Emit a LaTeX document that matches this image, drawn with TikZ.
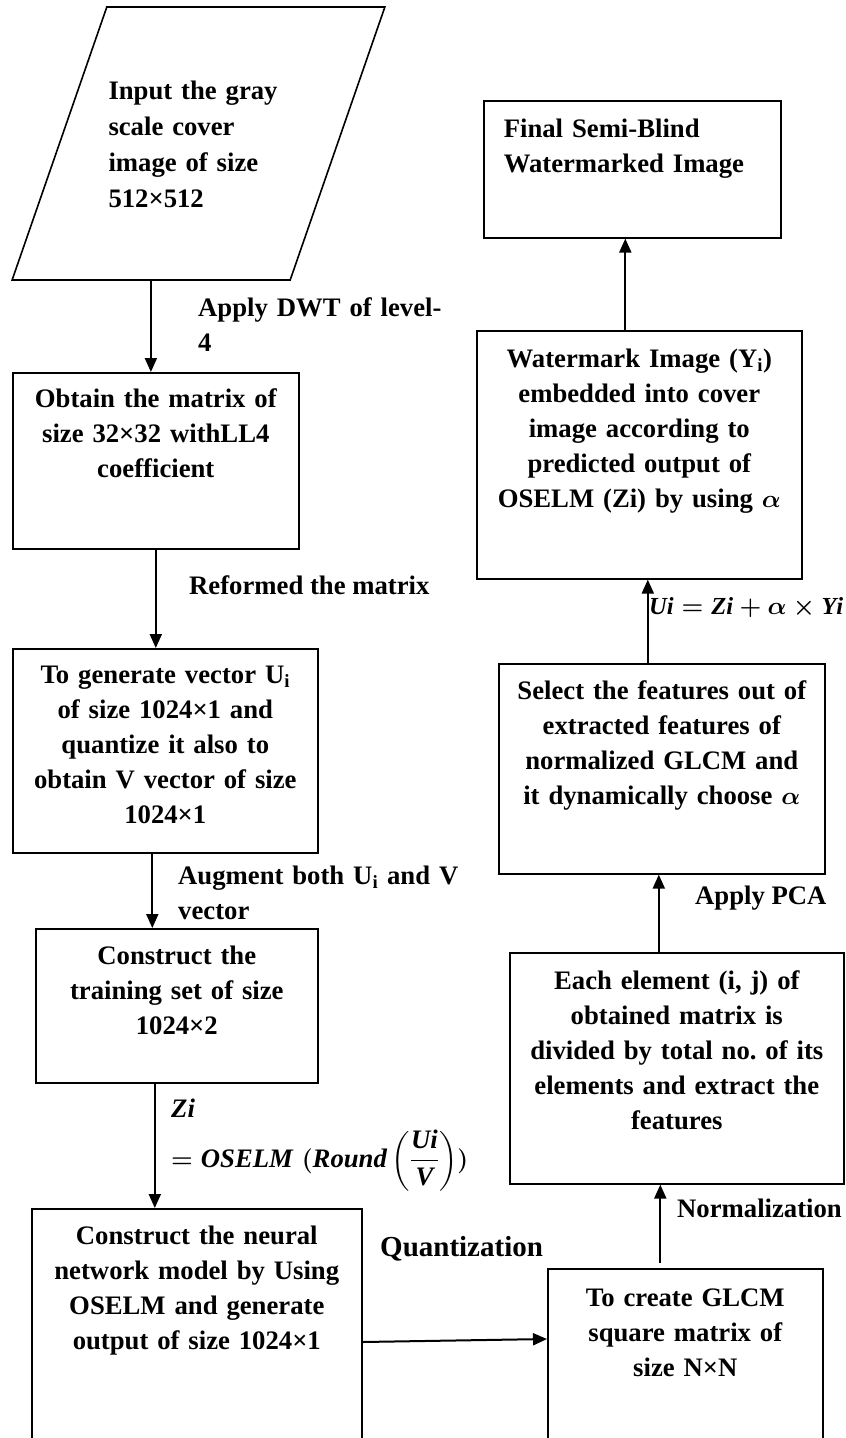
\documentclass[tikz,border=0pt]{standalone}
\usepackage{amsmath}
\usepackage{fontspec}
\setmainfont{Liberation Serif}
\usepackage{tikz}
\usetikzlibrary{shapes.geometric, arrows.meta}
\frenchspacing
\tikzset{
  stage/.style={rectangle, draw, line width=1.6pt, anchor=north west, inner sep=0pt, align=center,
    font=\bfseries\boldmath\fontsize{26.7}{35}\selectfont},
  lbl/.style={inner sep=0pt, anchor=base west, align=left,
    font=\bfseries\boldmath\fontsize{26.7}{35}\selectfont},
  arrow/.style={-{Triangle[length=14pt,width=12pt]}, line width=2pt},
}

\begin{document}
\begin{tikzpicture}[x=1pt, y=-1pt]
    \useasboundingbox (0,0) rectangle (846,1438);
    \clip (0,0) rectangle (846,1438);
    % left column
    \node[trapezium, draw, line width=1.6pt, trapezium left angle=71.2, trapezium right angle=108.8,
      trapezium stretches=true, minimum width=373pt, minimum height=273pt, text width=180pt,
      text height=92pt, text depth=181pt,
      align=left, inner sep=0pt, font=\bfseries\fontsize{26.7}{36}\selectfont]
      (input) at (198.5,143.5) {Input the gray\\scale cover\\image of size\\512×512};
    \node[stage, text width=286pt, text height=35pt, text depth=141pt] (obtain) at (12,372)
      {Obtain the matrix of\\size 32×32 withLL4\\coefficient};
    \node[stage, text width=305pt, text height=35pt, text depth=169pt] (vecgen) at (12,648)
      {To generate vector U\textsubscript{i}\\of size 1024×1 and\\quantize it also to\\obtain V vector of size\\1024×1};
    \node[stage, text width=282pt, text height=36pt, text depth=118pt] (trainset) at (35,928)
      {Construct the\\training set of size\\1024×2};
    \node[stage, text width=330pt, text height=36pt, text depth=220pt] (oselm) at (31,1208)
      {Construct the neural\\network model by Using\\OSELM and generate\\output of size 1024×1};
    % right column
    \node[stage, text width=275pt, text height=38pt, text depth=160pt] (glcm) at (547,1268)
      {To create GLCM\\square matrix of\\size N×N};
    \node[stage, text width=334pt, text height=37pt, text depth=194pt] (normglcm) at (509,952)
      {Each element (i, j) of\\obtained matrix is\\divided by total no. of its\\elements and extract the\\features};
    \node[stage, text width=326pt, text height=36pt, text depth=174pt] (pca) at (498,663)
      {Select the features out of\\extracted features of\\normalized GLCM and\\it dynamically choose $\alpha$};
    \node[stage, text width=325pt, text height=37pt, text depth=211pt] (embed) at (476,330)
      {Watermark Image (Y\textsubscript{i})\\embedded into cover\\image according to\\predicted output of\\OSELM (Zi) by using $\alpha$};
    \node[stage, align=left, text width=257pt, inner xsep=20pt, text height=37pt, text depth=100pt] (final) at (483,100)
      {Final Semi-Blind\\Watermarked Image};
    % connectors
    \draw[arrow] (input.bottom side) -- (input.bottom side |- obtain.north);
    \draw[arrow] (obtain.south) -- (obtain.south |- vecgen.north);
    \draw[arrow] ([xshift=-13pt]vecgen.south) -- ([xshift=-13pt]vecgen.south |- trainset.north);
    \draw[arrow] ([xshift=-22pt]trainset.south) -- ([xshift=-22pt]trainset.south |- oselm.north);
    \draw[arrow] ([yshift=-134pt]oselm.north east) -- ([yshift=-71pt]glcm.north west);
    \draw[arrow] ([xshift=-25pt,yshift=5pt]glcm.north) -- ([xshift=-25pt]glcm.north |- normglcm.south);
    \draw[arrow] ([xshift=-18pt]normglcm.north) -- ([xshift=-18pt]normglcm.north |- pca.south);
    \draw[arrow] ([xshift=-14pt]pca.north) -- ([xshift=-14pt]pca.north |- embed.south);
    \draw[arrow] ([xshift=-14pt]embed.north) -- ([xshift=-14pt]embed.north |- final.south);
    % labels
    \node[lbl, text width=280pt] (dwtlbl) at (198,316) {Apply DWT of level-\\4};
    \node[lbl] (reflbl) at (189,594) {Reformed the matrix};
    \node[lbl, text width=320pt] (auglbl) at (178,884) {Augment both U\textsubscript{i} and V\\vector};
    \node[lbl, text width=330pt] (zlbl) at (171,1117)
      {$\mathit{Zi}$\\[12pt]$=\mathit{OSELM}\ (\mathit{Round}\left(\dfrac{\mathit{Ui}}{\mathit{V}}\right))$};
    \node[lbl, font=\bfseries\fontsize{29}{35}\selectfont] (qlbl) at (380,1256) {Quantization};
    \node[lbl] (normlbl) at (677,1217) {Normalization};
    \node[lbl] (pcalbl) at (695,904) {Apply PCA};
    \node[lbl, font=\bfseries\boldmath\fontsize{24.5}{30}\selectfont] (eqlbl) at (649,614)
      {$\mathit{Ui}=\mathit{Zi}+\alpha\times\mathit{Yi}$};
  \end{tikzpicture}
\end{document}
